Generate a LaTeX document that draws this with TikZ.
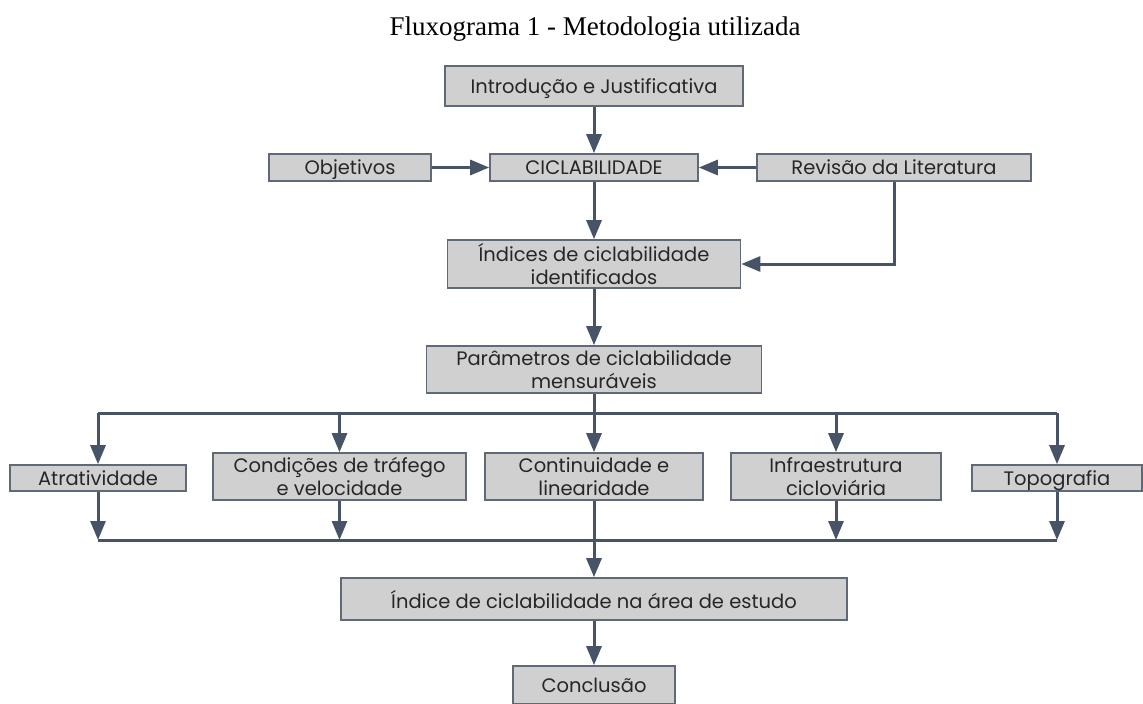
\documentclass[tikz,border=0pt]{standalone}
\usepackage{fontspec}
\setmainfont{Liberation Serif}
\newfontfamily\boxfont{Poppins}
\usetikzlibrary{arrows.meta}
\definecolor{slate}{RGB}{71,84,104}
\definecolor{boxgray}{RGB}{208,208,208}
\definecolor{boxedge}{RGB}{95,105,120}
\tikzset{
  bx/.style={draw=boxedge, line width=1.6pt, fill=boxgray, inner sep=0pt, align=center,
    font=\boxfont\fontsize{19.5}{23}\selectfont, text=black!85, text depth=0pt},
  arr/.style={draw=slate, line width=3pt, -{Triangle[length=19pt,width=15pt]}},
  ln/.style={draw=slate, line width=3pt},
}
\begin{document}
\begin{tikzpicture}[x=1pt,y=-1pt]
\useasboundingbox (0,0) rectangle (1143,704);
\node[font=\fontsize{27}{32}\selectfont] (title) at (595,29) {Fluxograma 1 - Metodologia utilizada};

\node[bx, minimum width=298pt, minimum height=40pt] (intro) at (594,86) {Introdução e Justificativa};
\node[bx, minimum width=162pt, minimum height=27pt] (obj) at (350,167.5) {Objetivos};
\node[bx, minimum width=208pt, minimum height=27pt] (cic) at (594,167.5) {CICLABILIDADE};
\node[bx, minimum width=274pt, minimum height=27pt] (rev) at (894,167.5) {Revisão da Literatura};
\node[bx, minimum width=293pt, minimum height=48pt] (ind) at (594,264) {Índices de ciclabilidade\\identificados};
\node[bx, minimum width=335pt, minimum height=47pt] (par) at (594,369.5) {Parâmetros de ciclabilidade\\mensuráveis};

\node[bx, minimum width=176pt, minimum height=26pt] (atr) at (98,478) {Atratividade};
\node[bx, minimum width=253pt, minimum height=47pt] (con) at (339.5,476.5) {Condições de tráfego\\e velocidade};
\node[bx, minimum width=218pt, minimum height=47pt] (cont) at (594,476.5) {Continuidade e\\linearidade};
\node[bx, minimum width=210pt, minimum height=47pt] (inf) at (836,476.5) {Infraestrutura\\cicloviária};
\node[bx, minimum width=170pt, minimum height=26pt] (top) at (1057,478) {Topografia};

\node[bx, minimum width=506pt, minimum height=42pt] (area) at (594,599) {Índice de ciclabilidade na área de estudo};
\node[bx, minimum width=162pt, minimum height=38pt] (conc) at (594,685) {Conclusão};

\coordinate (tb) at (594,413);
\coordinate (bb) at (594,540);

\draw[arr] (intro.south) -- (cic.north);
\draw[arr] (obj.east) -- (cic.west);
\draw[arr] (rev.west) -- (cic.east);
\draw[arr] (cic.south) -- (ind.north);
\draw[arr] (rev.south) |- (ind.east);
\draw[arr] (ind.south) -- (par.north);

\draw[ln] (atr.north |- tb) -- (top.north |- tb);
\draw[arr] (par.south) -- (cont.north);
\draw[arr] (atr.north |- tb) -- (atr.north);
\draw[arr] (con.north |- tb) -- (con.north);
\draw[arr] (inf.north |- tb) -- (inf.north);
\draw[arr] (top.north |- tb) -- (top.north);

\draw[ln] (atr.south |- bb) -- (top.south |- bb);
\draw[arr] (atr.south) -- (atr.south |- bb);
\draw[arr] (con.south) -- (con.south |- bb);
\draw[arr] (inf.south) -- (inf.south |- bb);
\draw[arr] (top.south) -- (top.south |- bb);
\draw[arr] (cont.south) -- (area.north);
\draw[arr] (area.south) -- (conc.north);
\end{tikzpicture}
\end{document}
